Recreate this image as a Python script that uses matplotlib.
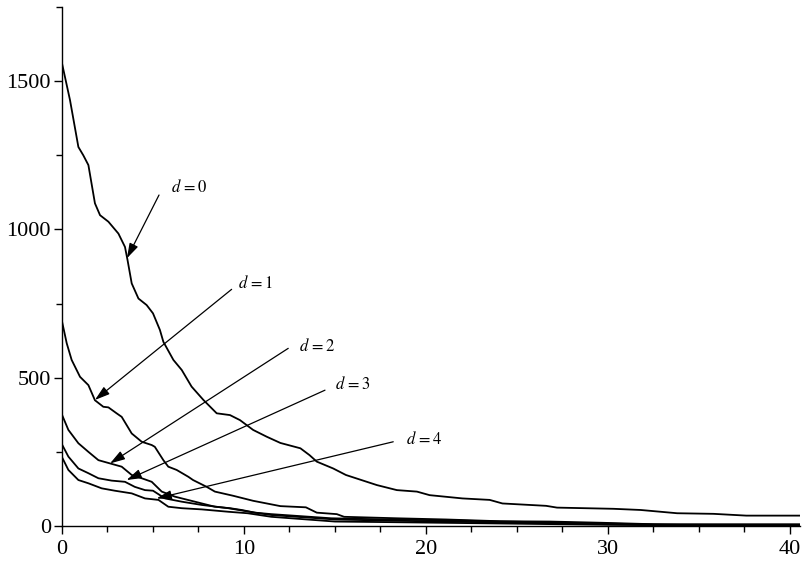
import matplotlib
matplotlib.use("Agg")
import matplotlib.pyplot as plt
from matplotlib.ticker import MultipleLocator

plt.rcParams['font.family'] = ['Liberation Serif', 'DejaVu Serif']
plt.rcParams['mathtext.fontset'] = 'stix'

# ---- data ----
d0_x = [0, 0.44, 0.9, 1.17, 1.45, 1.81, 2.09, 2.55, 3.1, 3.46, 3.6, 3.83, 4.2, 4.65, 5.0,
        5.38, 5.57, 6.12, 6.58, 7.12, 7.77, 8.5, 9.23, 9.78, 10.5, 11.25, 12.0, 13.1, 13.6,
        14.0, 14.9, 15.6, 17.3, 18.4, 19.5, 20.2, 22.0, 23.5, 24.2, 26.6, 27.2, 30.3, 31.8,
        33.8, 35.8, 37.6, 40.5]
d0_y = [1560, 1436, 1278, 1250, 1217, 1088, 1048, 1026, 986, 941, 897, 818, 767, 745, 717,
        661, 621, 560, 526, 470, 425, 380, 374, 357, 324, 301, 280, 262, 239,
        217, 194, 172, 138, 121, 116, 104, 93, 88, 76, 68, 62, 58, 54,
        43, 41, 35, 35]

d1_x = [0, 0.26, 0.53, 0.99, 1.45, 1.81, 2.27, 2.55, 3.0, 3.28, 3.83, 4.38, 4.93, 5.1, 5.57,
        5.84, 6.3, 6.94, 7.2, 7.95, 8.4, 9.4, 10.5, 12.0, 13.4, 14.0, 15.1, 15.5, 18.4, 21.1,
        24.1, 26.8, 29.6, 32.5, 40.5]
d1_y = [690, 616, 560, 503, 475, 424, 402, 400, 380, 368, 312, 284, 273, 267, 222,
        200, 189, 166, 155, 132, 116, 102, 85, 67, 63, 45, 40, 31, 26, 22,
        16, 15, 11, 6, 6]

d2_x = [0, 0.35, 0.9, 1.45, 2.0, 2.64, 3.28, 3.83, 4.38, 4.93, 5.48, 6.2, 7.3, 8.4, 9.23,
        9.87, 10.6, 11.5, 14.8, 18, 22, 26, 30, 34, 40.5]
d2_y = [375, 324, 279, 250, 222, 211, 200, 172, 161, 149, 116, 99, 82, 65, 60,
        54, 45, 40, 26, 22, 18, 13, 8, 4, 3]

d3_x = [0, 0.35, 0.9, 1.45, 2.0, 2.73, 3.46, 4.0, 4.56, 5.0, 5.66, 6.58, 7.68, 9.14, 10.6,
        11.5, 15.0, 18, 22, 26, 30, 34, 40.5]
d3_y = [275, 234, 194, 178, 161, 153, 149, 132, 121, 119, 93, 82, 71, 60, 45,
        37, 22, 18, 14, 10, 6, 3, 2]

d4_x = [0, 0.35, 0.9, 1.45, 2.18, 2.9, 3.83, 4.56, 5.3, 5.84, 6.58, 7.68, 9.14, 10.2, 11.5,
        15.0, 18, 22, 26, 30, 34, 40.5]
d4_y = [232, 189, 155, 144, 127, 119, 110, 93, 88, 65, 60, 56, 48, 43, 31,
        15, 13, 10, 7, 4, 2, 1]

labels = [r'$d\,=0$', r'$d\,=1$', r'$d\,=2$', r'$d\,=3$', r'$d\,=4$']
# arrow tips (on curves), arrow tails, text anchors
tips_x = [3.57, 1.81, 2.64, 3.55, 5.2]
tips_y = [903, 425, 211, 155, 93]
tails_x = [5.33, 9.32, 12.43, 14.45, 18.2]
tails_y = [1116, 798, 599, 458, 284]
text_x = [6.0, 9.65, 13.0, 15.0, 18.9]
text_y = [1143, 817, 604, 477, 290]

fig = plt.figure(figsize=(8.04, 5.64), dpi=100)
ax = fig.add_axes([62/804, 38/564, (800-62)/804, (526-7)/564])

for xs, ys in [(d0_x, d0_y), (d1_x, d1_y), (d2_x, d2_y), (d3_x, d3_y), (d4_x, d4_y)]:
    ax.plot(xs, ys, color='black', lw=1.3, solid_joinstyle='round')

for lab, tx, ty, sx, sy, lx, ly in zip(labels, tips_x, tips_y, tails_x, tails_y, text_x, text_y):
    ax.annotate('', xy=(tx, ty), xytext=(sx, sy),
                arrowprops=dict(arrowstyle='-|>,head_length=0.9,head_width=0.28',
                                color='black', lw=0.9, shrinkA=0, shrinkB=0))
    ax.text(lx, ly, lab, fontsize=12, va='center', ha='left')

ax.set_xlim(0, 40.55)
ax.set_ylim(0, 1750)
ax.spines['top'].set_visible(False)
ax.spines['right'].set_visible(False)
ax.spines['left'].set_linewidth(1.0)
ax.spines['bottom'].set_linewidth(1.0)
ax.xaxis.set_major_locator(MultipleLocator(10))
ax.xaxis.set_minor_locator(MultipleLocator(2.5))
ax.yaxis.set_major_locator(MultipleLocator(500))
ax.yaxis.set_minor_locator(MultipleLocator(250))
ax.tick_params(which='major', direction='out', length=6, width=1.0, labelsize=16, pad=4)
ax.tick_params(which='minor', direction='out', length=4, width=1.0)
ax.tick_params(axis='y', which='major', pad=2)
ax.patch.set_alpha(0)

fig.savefig('out.png', dpi=100)
